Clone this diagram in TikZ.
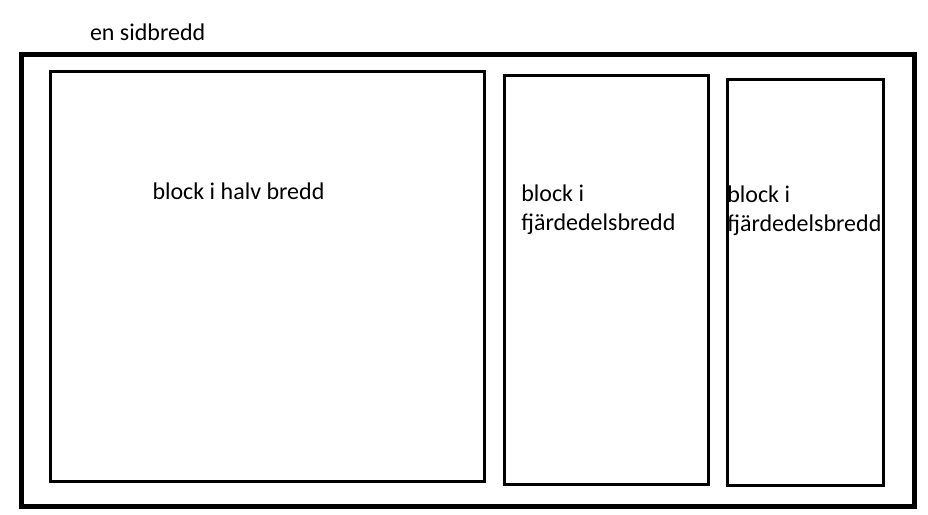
\documentclass[tikz,border=0pt]{standalone}
\usepackage{fontspec}
\setmainfont{Carlito}
\begin{document}
\begin{tikzpicture}[x=1pt,y=-1pt,
  outerbox/.style={draw=black,line width=5pt,minimum width=893.2pt,minimum height=451.8pt,inner sep=0pt,outer sep=0pt},
  blockbox/.style={draw=black,line width=3pt,inner sep=0pt,outer sep=0pt},
  lbl/.style={anchor=base west,inner sep=0pt,outer sep=0pt,font=\fontsize{24}{28.5}\selectfont,text=black}]
\useasboundingbox (0,0) rectangle (928,514);
\node[outerbox] (page) at (468.1,280.1) {};
\node[blockbox,minimum width=433.7pt,minimum height=410pt] (half) at (267.2,276.3) {};
\node[blockbox,minimum width=204pt,minimum height=408.8pt] (q1) at (606.5,279.9) {};
\node[blockbox,minimum width=155.5pt,minimum height=405.8pt] (q2) at (805.25,282.4) {};
\node[lbl] (tpage) at (90,40.7) {en sidbredd};
\node[lbl] (thalf) at (152.5,199.3) {block i halv bredd};
\node[lbl] (tq1) at (521.3,201.7) {\begin{tabular}[t]{@{}l@{}}block i\\fjärdedelsbredd\end{tabular}};
\node[lbl] (tq2) at (727.3,202.7) {\begin{tabular}[t]{@{}l@{}}block i\\fjärdedelsbredd\end{tabular}};
\end{tikzpicture}
\end{document}
